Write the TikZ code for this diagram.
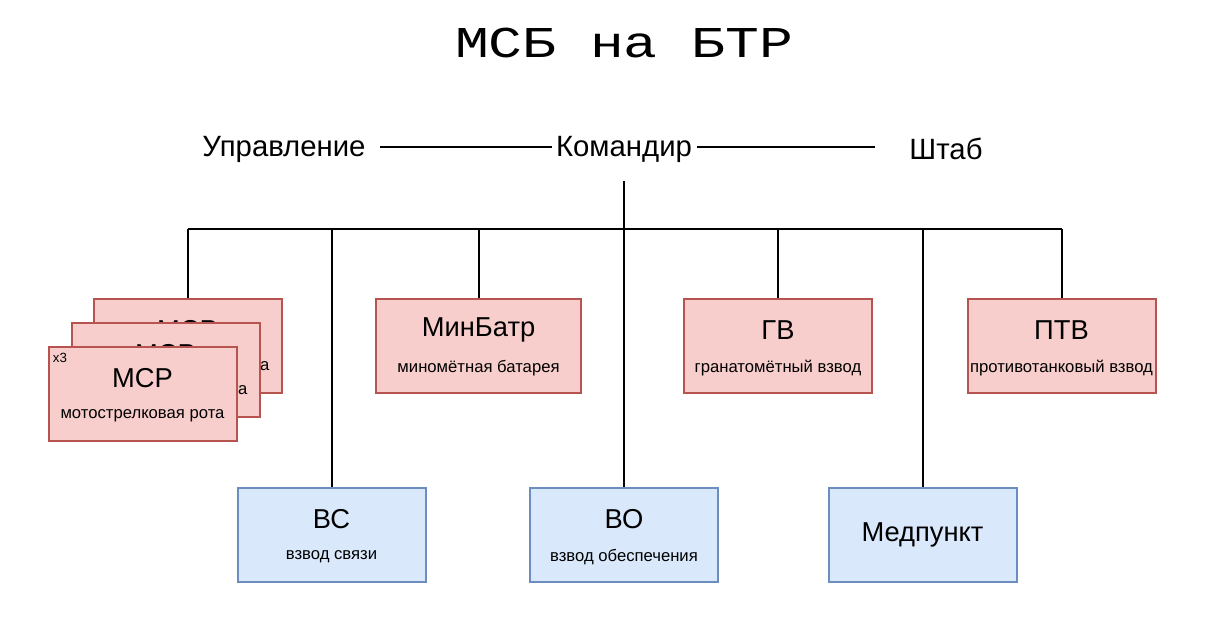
\documentclass[tikz,border=0pt]{standalone}
\usepackage{fontspec}
\setmainfont{Liberation Sans}
\newfontfamily\monof{Liberation Mono}
\definecolor{rfill}{HTML}{F8CECC}
\definecolor{rdraw}{HTML}{B85450}
\definecolor{bfill}{HTML}{DAE8FC}
\definecolor{bdraw}{HTML}{6C8EBF}
\tikzset{
  unitbox/.style={rectangle, minimum width=141pt, minimum height=70pt, line width=1.5pt, inner sep=0pt},
  redbox/.style={unitbox, fill=rfill, draw=rdraw},
  bluebox/.style={unitbox, fill=bfill, draw=bdraw},
  boxtitle/.style={font=\fontsize{20.5}{24}\selectfont, inner sep=0pt, anchor=center},
  boxsub/.style={font=\fontsize{12.5}{15}\selectfont, inner sep=0pt, anchor=center},
  toplabel/.style={font=\fontsize{22}{26}\selectfont, inner sep=0pt},
  conn/.style={line width=1.5pt, black},
}
\begin{document}
\begin{tikzpicture}[x=0.75pt,y=-0.75pt]
\useasboundingbox (0,0) rectangle (1212,629);
% title
\node[font=\monof\fontsize{33}{38}\selectfont, xscale=1.28, inner sep=0pt] (title) at (624,43) {МСБ на БТР};
% top row
\node[toplabel] (upr) at (284,149) {Управление};
\node[toplabel] (cmd) at (624,149) {Командир};
\node[toplabel] (hq) at (946,149) {Штаб};
\coordinate (lineA) at (380,147);
\coordinate (lineB) at (875,147);
\coordinate (cmdW) at (552,147);
\coordinate (cmdE) at (697,147);
\draw[conn] (lineA) -- (cmdW);
\draw[conn] (cmdE) -- (lineB);
\coordinate (stub) at (624,181);
\coordinate (bus) at (624,229);
\draw[conn] (stub) -- (bus);
% boxes
\node[redbox] (mcp1) at (187.5,346) {};
\node[boxtitle] (mcp1t) at (187.5,330) {МСР};
\node[boxsub] (mcp1s) at (187.5,368) {мотострелковая рота};
\node[redbox] (mcp2) at (165.5,370) {};
\node[boxtitle] (mcp2t) at (165.5,354) {МСР};
\node[boxsub] (mcp2s) at (165.5,392) {мотострелковая рота};
\node[redbox] (mcp3) at (142.5,394) {};
\node[boxtitle] (mcp3t) at (142.5,378) {МСР};
\node[boxsub] (mcp3s) at (142.5,416) {мотострелковая рота};
\node[font=\fontsize{10}{12}\selectfont, inner sep=0pt] (x3) at (60,358) {x3};

\node[redbox, minimum width=153.75pt] (minb) at (478.5,346) {};
\node[boxtitle] (minbt) at (478.5,330) {МинБатр};
\node[boxsub] (minbs) at (478.5,368) {миномётная батарея};

\node[redbox] (gv) at (778,346) {};
\node[boxtitle] (gvt) at (778,330) {ГВ};
\node[boxsub] (gvs) at (778,368) {гранатомётный взвод};

\node[redbox] (ptv) at (1061.5,346) {};
\node[boxtitle] (ptvt) at (1061.5,330) {ПТВ};
\node[boxsub] (ptvs) at (1061.5,368) {противотанковый взвод};

\node[bluebox] (vs) at (331.5,535) {};
\node[boxtitle] (vst) at (331.5,519) {ВС};
\node[boxsub] (vss) at (331.5,557) {взвод связи};

\node[bluebox] (vo) at (624,535) {};
\node[boxtitle] (vot) at (624,519) {ВО};
\node[boxsub] (vos) at (624,557) {взвод обеспечения};

\node[bluebox] (med) at (922.5,535) {};
\node[boxtitle] (medt) at (922.5,535) {Медпункт};

% bus and drops
\draw[conn] (mcp1.north |- bus) -- (ptv.north |- bus);
\draw[conn] (mcp1.north |- bus) -- (mcp1.north);
\draw[conn] (vs.north |- bus) -- (vs.north);
\draw[conn] (minb.north |- bus) -- (minb.north);
\draw[conn] (vo.north |- bus) -- (vo.north);
\draw[conn] (gv.north |- bus) -- (gv.north);
\draw[conn] (med.north |- bus) -- (med.north);
\draw[conn] (ptv.north |- bus) -- (ptv.north);
\end{tikzpicture}
\end{document}
